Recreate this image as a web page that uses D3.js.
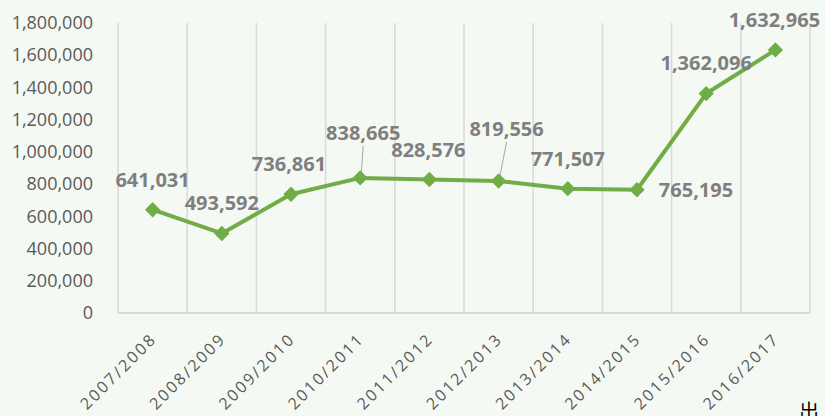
<!DOCTYPE html>
<meta charset="utf-8">
<style>
body { margin: 0; background: #f5f9f4; }
svg { display: block; background: #f5f9f4; }
.y-axis text { font-family: "Open Sans", sans-serif; font-size: 18px; fill: #595959; }
.x-axis text { font-family: "Open Sans", sans-serif; font-size: 16px; fill: #595959; letter-spacing: 2.3px; }
.value-label { font-family: "Open Sans", sans-serif; font-size: 20px; font-weight: bold; fill: #7f7f7f; }
</style>
<svg width="825" height="416"></svg>
<script src="https://d3js.org/d3.v7.min.js"></script>
<script>

// data
var years = ["2007/2008", "2008/2009", "2009/2010", "2010/2011", "2011/2012",
             "2012/2013", "2013/2014", "2014/2015", "2015/2016", "2016/2017"];
var values = [641031, 493592, 736861, 838665, 828576, 819556, 771507, 765195, 1362096, 1632965];
var yTicks = [0, 200000, 400000, 600000, 800000, 1000000, 1200000, 1400000, 1600000, 1800000];

// where each value label sits relative to its point (dx, dy) and whether it gets a leader line
var label_offsets = [[0, -30], [0, -30], [-2, -30], [3, -45], [-1, -30],
                     [8, -52], [0, -30], [59, 0], [0, -31], [-1, -30]];
var leaders = [false, false, false, true, false, true, false, false, false, false];

var line_colour = "#70ad47";
var grid_colour = "#d9d9d9";

var svg = d3.select("svg");

var x = d3.scaleBand()
    .domain(years)
    .range([118, 810]);

var y = d3.scaleLinear()
    .domain([0, 1800000])
    .range([313, 23]);

// vertical category gridlines at band edges
var edges = years.map(function(d) { return x(d); }).concat([x.range()[1]]);
svg.append("g")
    .selectAll("line")
    .data(edges)
    .enter().append("line")
    .attr("x1", function(d) { return d; })
    .attr("x2", function(d) { return d; })
    .attr("y1", y(1800000))
    .attr("y2", y(0))
    .style("stroke", grid_colour)
    .style("stroke-width", 1.5);

// bottom axis line
svg.append("line")
    .attr("x1", 118).attr("x2", 810)
    .attr("y1", y(0)).attr("y2", y(0))
    .style("stroke", grid_colour)
    .style("stroke-width", 2);

// y axis
var yAxis = svg.append("g")
    .attr("class", "y-axis")
    .attr("transform", "translate(118,0)")
    .call(d3.axisLeft(y).tickValues(yTicks).tickFormat(d3.format(",")).tickSize(0).tickPadding(25));
yAxis.select(".domain").remove();

// x axis labels, rotated
var xAxis = svg.append("g")
    .attr("class", "x-axis")
    .attr("transform", "translate(0," + y(0) + ")")
    .call(d3.axisBottom(x).tickSize(0));
xAxis.select(".domain").remove();
xAxis.selectAll("text")
    .attr("text-anchor", "end")
    .attr("x", 0)
    .attr("y", 0)
    .attr("dy", 0)
    .attr("transform", "translate(5,27) rotate(-45)");

// the line
var line = d3.line()
    .x(function(d, i) { return x(years[i]) + x.bandwidth() / 2; })
    .y(function(d) { return y(d); });

svg.append("path")
    .datum(values)
    .attr("d", line)
    .style("fill", "none")
    .style("stroke", line_colour)
    .style("stroke-width", 4)
    .style("stroke-linejoin", "round");

// leader lines
values.forEach(function(v, i) {
    if (!leaders[i]) return;
    var px = x(years[i]) + x.bandwidth() / 2, py = y(v);
    var lx = px + label_offsets[i][0], ly = py + label_offsets[i][1];
    svg.append("line")
        .attr("x1", lx).attr("y1", ly + 13)
        .attr("x2", px + 1).attr("y2", py - 3)
        .style("stroke", "#a6a6a6")
        .style("stroke-width", 1);
});

// diamond markers
svg.append("g")
    .selectAll("path")
    .data(values)
    .enter().append("path")
    .attr("d", d3.symbol().type(d3.symbolDiamond2).size(150))
    .attr("transform", function(d, i) {
        return "translate(" + (x(years[i]) + x.bandwidth() / 2) + "," + y(d) + ")";
    })
    .style("fill", line_colour);

// value labels
svg.append("g")
    .selectAll("text")
    .data(values)
    .enter().append("text")
    .attr("class", "value-label")
    .attr("text-anchor", "middle")
    .attr("x", function(d, i) { return x(years[i]) + x.bandwidth() / 2 + label_offsets[i][0]; })
    .attr("y", function(d, i) { return y(d) + label_offsets[i][1]; })
    .attr("dy", "0.35em")
    .text(function(d) { return d3.format(",")(d); });

// stray character from the page, cut off at the bottom
svg.append("text")
    .attr("x", 799)
    .attr("y", 419)
    .style("font-family", "Noto Sans CJK JP")
    .style("font-size", 20)
    .style("fill", "#000")
    .text("出");

</script>
